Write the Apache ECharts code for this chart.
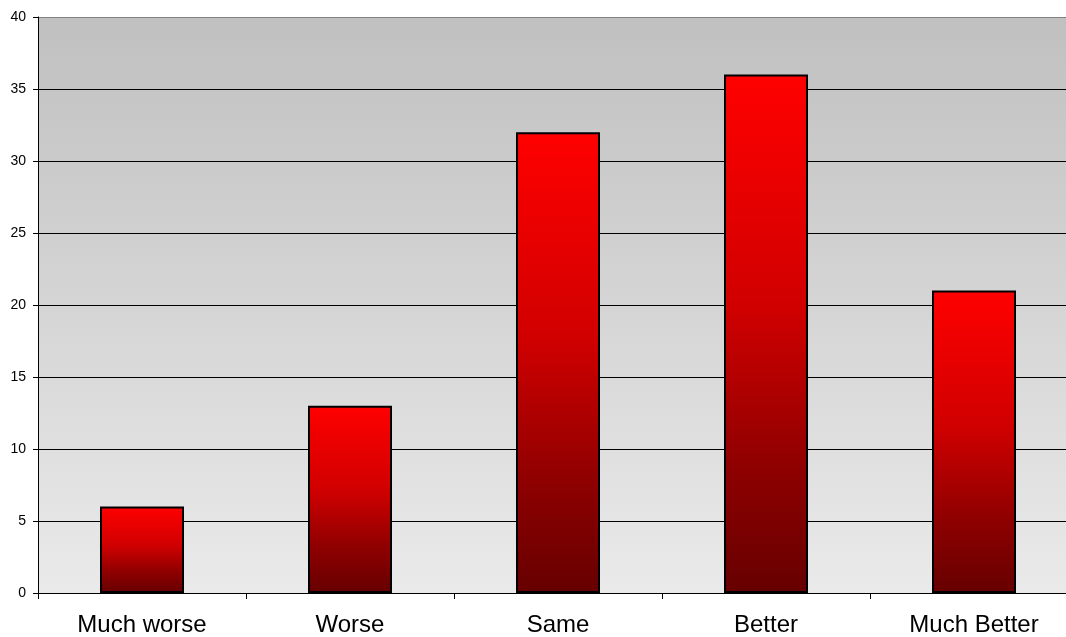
<!DOCTYPE html>
<html>
<head>
<meta charset="utf-8">
<style>
  html, body { margin: 0; padding: 0; background: #ffffff; overflow: hidden; }
  #chart { width: 1078px; height: 637px; }
</style>
<script src="https://cdn.jsdelivr.net/npm/echarts@6/dist/echarts.min.js"></script>
</head>
<body>
<div id="chart"></div>
<script>
// Response categories and counts
const categories = ['Much worse', 'Worse', 'Same', 'Better', 'Much Better'];
const counts = [6, 13, 32, 36, 21];

// Value axis range
const yMin = 0;
const yMax = 40;
const yStep = 5;

const chart = echarts.init(document.getElementById('chart'), null, { renderer: 'canvas' });

// Gridline colours: dark lines, the top border line lighter grey
const gridLineColors = [];
for (let v = yMin; v <= yMax; v += yStep) {
  gridLineColors.push(v === yMax ? '#808080' : '#000000');
}

chart.setOption({
  animation: false,
  backgroundColor: '#ffffff',
  grid: {
    left: 38,
    top: 17,
    right: 0,
    bottom: 43.5,
    show: true,
    borderWidth: 0,
    backgroundColor: new echarts.graphic.LinearGradient(0, 0, 0, 1, [
      { offset: 0, color: '#c0c0c0' },
      { offset: 1, color: '#eaeaea' }
    ])
  },
  xAxis: {
    type: 'category',
    data: categories,
    boundaryGap: true,
    axisLine: { lineStyle: { color: '#000000', width: 1 } },
    axisTick: { show: true, length: 6, inside: false, lineStyle: { color: '#000000' } },
    axisLabel: {
      color: '#000000',
      fontFamily: 'Liberation Sans, Arial, sans-serif',
      fontSize: 24,
      margin: 20
    },
    splitLine: { show: false }
  },
  yAxis: {
    type: 'value',
    min: yMin,
    max: yMax,
    interval: yStep,
    axisLine: { show: true, lineStyle: { color: '#000000', width: 1 } },
    axisTick: { show: true, length: 5, lineStyle: { color: '#000000' } },
    axisLabel: {
      color: '#000000',
      fontFamily: 'Liberation Sans, Arial, sans-serif',
      fontSize: 14,
      margin: 12
    },
    splitLine: { show: true, lineStyle: { color: gridLineColors, width: 1 } }
  },
  series: [{
    type: 'bar',
    data: counts,
    barWidth: 84,
    itemStyle: {
      color: new echarts.graphic.LinearGradient(0, 0, 0, 1, [
        { offset: 0, color: '#ff0000' },
        { offset: 0.45, color: '#d00000' },
        { offset: 0.75, color: '#900000' },
        { offset: 1, color: '#660000' }
      ]),
      borderColor: '#000000',
      borderWidth: 2
    }
  }]
});
</script>
</body>
</html>
